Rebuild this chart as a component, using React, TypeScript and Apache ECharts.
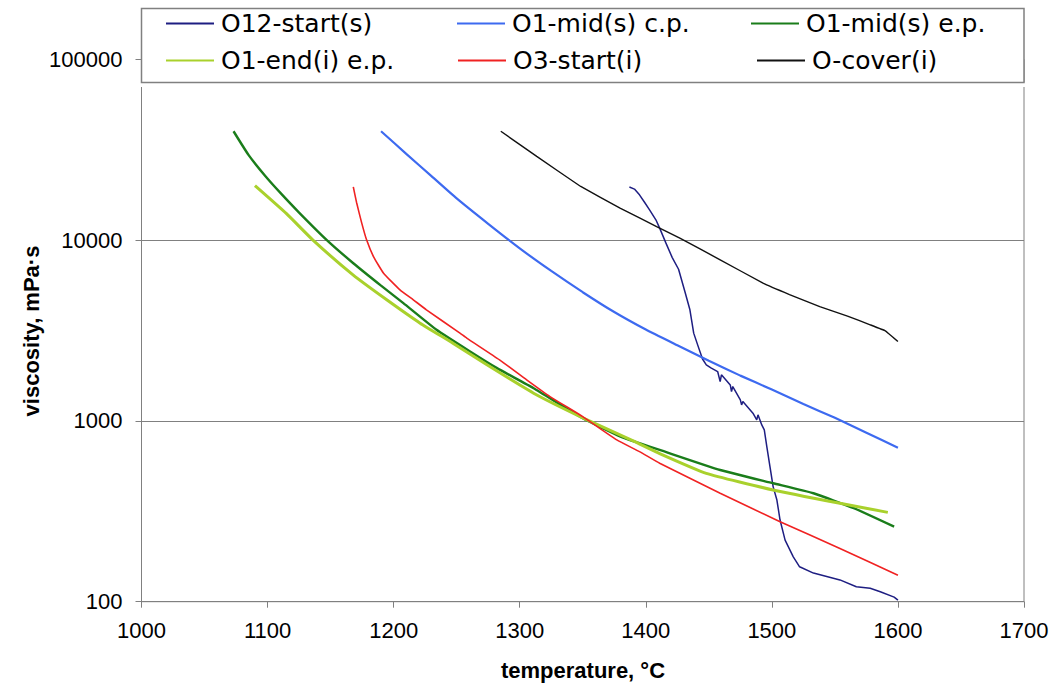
import React, { useEffect, useRef } from "react";
import * as echarts from "echarts";

const seriesNames = [
  "O12-start(s)",
  "O1-mid(s) c.p.",
  "O1-mid(s) e.p.",
  "O1-end(i) e.p.",
  "O3-start(i)",
  "O-cover(i)",
];

const xTicks = [1000, 1100, 1200, 1300, 1400, 1500, 1600, 1700];
const yTicks = [100, 1000, 10000, 100000];

const o12Start = [
  [1387, 19650], [1391, 19150], [1395, 17800], [1399, 16200], [1403, 14700],
  [1408, 12950], [1411, 11650], [1416, 9620], [1421, 8000], [1426, 6900],
  [1431, 5200], [1435, 4115], [1438, 3058], [1441, 2650], [1445, 2200],
  [1448, 2042], [1452, 1957], [1457, 1875], [1459, 1650], [1460, 1798],
  [1467, 1582], [1468, 1453], [1469, 1549], [1475, 1307], [1476, 1226],
  [1477, 1279], [1485, 1103], [1488, 1013], [1489, 1080], [1492, 950],
  [1494, 892], [1496, 721], [1498.5, 559], [1501, 433], [1504, 365],
  [1506.5, 283], [1510.5, 219], [1517, 177], [1522, 156], [1533, 144],
  [1554, 132], [1567, 121], [1578, 118.6], [1586, 113.6], [1597, 106], [1600, 102],
];

const o1MidCp = [
  [1190, 40000], [1210, 30000], [1230, 22600], [1250, 17000], [1275, 12300],
  [1300, 9000], [1325, 6750], [1350, 5150], [1375, 4000], [1400, 3200],
  [1425, 2620], [1450, 2150], [1475, 1780], [1500, 1490], [1525, 1240],
  [1550, 1040], [1575, 860], [1600, 710],
];

const o1MidEp = [
  [1073, 40000], [1085, 29500], [1098, 22700], [1110, 18300], [1125, 14200],
  [1147, 10000], [1168, 7450], [1190, 5600], [1207.7, 4480], [1234, 3190],
  [1260.6, 2420], [1282, 1958], [1311, 1517], [1350, 1035],
  [1380, 819], [1395, 753], [1411, 691], [1459, 535], [1501, 452], [1533, 398],
  [1565, 329], [1597, 260],
];

const o1EndEp = [
  [1090, 20000], [1115, 14000], [1136, 10000], [1168, 6400], [1194.5, 4675],
  [1221, 3473], [1247, 2692], [1274, 2042],
  [1311, 1423], [1350, 1040], [1390, 775], [1411, 660], [1448, 513], [1501, 415],
  [1554, 350], [1592, 312],
];

const o3Start = [
  [1168, 19700], [1170.7, 16030], [1174.7, 12420], [1178.6, 10000], [1184, 8110],
  [1192, 6565], [1205, 5310], [1215.6, 4675], [1226, 4115], [1252.6, 3058],
  [1258, 2870], [1284, 2176], [1305.5, 1686], [1324, 1363], [1350, 1056],
  [1377, 785], [1395, 676], [1411, 583], [1459, 398], [1506.5, 277], [1554, 197],
  [1600, 140],
];

const oCover = [
  [1285, 40000], [1313.5, 29020], [1348.4, 19800], [1379.6, 15030], [1395.4, 13230],
  [1408.6, 11890], [1427, 10260], [1459, 7780], [1493, 5780], [1514, 5000],
  [1538, 4290], [1560, 3800], [1578, 3400], [1590, 3150], [1600, 2750],
];

const seriesData = [o12Start, o1MidCp, o1MidEp, o1EndEp, o3Start, oCover];
const colors = ["#1e1e82", "#3d6af0", "#1a7d1a", "#a9d12c", "#f02222", "#111111"];
const widths = [1.5, 2.2, 2.4, 3, 1.6, 1.4];
const smoothing = [0, 0.15, 0.15, 0.15, 0.15, 0.05];

const legendPos = [
  [166, 11], [457, 11], [751, 11],
  [166, 48], [458, 48], [757, 48],
];

export default function App() {
  const ref = useRef<HTMLDivElement>(null);
  useEffect(() => {
    if (!ref.current) return;
    const chart = echarts.init(ref.current, undefined, { renderer: "svg" });
    const axisGray = "#808080";
    const option: any = {
      animation: false,
      backgroundColor: "#ffffff",
      grid: {
        left: 141.5,
        right: 32,
        top: 59.3,
        bottom: 90.3,
        show: true,
        borderColor: axisGray,
        borderWidth: 1,
        backgroundColor: "#ffffff",
      },
      xAxis: {
        type: "value",
        min: xTicks[0],
        max: xTicks[xTicks.length - 1],
        interval: 100,
        axisLine: { show: true, lineStyle: { color: axisGray, width: 1 } },
        axisTick: { show: true, inside: false, length: 6, lineStyle: { color: axisGray } },
        splitLine: { show: false },
        axisLabel: {
          margin: 18,
          color: "#000",
          fontSize: 22,
          fontFamily: "Liberation Sans, Arial, sans-serif",
          formatter: (v: number) => String(v),
        },
      },
      yAxis: {
        type: "log",
        logBase: 10,
        min: yTicks[0],
        max: yTicks[yTicks.length - 1],
        axisLine: { show: true, lineStyle: { color: axisGray, width: 1 } },
        axisTick: { show: true, inside: false, length: 6, lineStyle: { color: axisGray } },
        splitLine: { show: true, lineStyle: { color: axisGray, width: 1 } },
        minorTick: { show: false },
        axisLabel: {
          margin: 19,
          color: "#000",
          fontSize: 22,
          fontFamily: "Liberation Sans, Arial, sans-serif",
          formatter: (v: number) => String(Math.round(v)),
        },
      },
      legend: seriesNames.map((n, i) => ({
        data: [n],
        left: legendPos[i][0],
        top: legendPos[i][1],
        padding: 0,
        z: 30,
        icon: "rect",
        itemWidth: 48,
        itemHeight: 2,
        itemGap: 0,
        textStyle: {
          fontSize: 25,
          color: "#000",
          fontFamily: "DejaVu Sans, sans-serif",
          padding: [0, 0, 0, 2],
        },
        selectedMode: false,
      })),
      graphic: [
        {
          type: "rect",
          z: 20,
          shape: { x: 136, y: 82, width: 895, height: 5 },
          style: { fill: "#ffffff", stroke: null },
        },
        {
          type: "rect",
          z: 21,
          shape: { x: 141.5, y: 8.5, width: 882.5, height: 74 },
          style: { fill: "#ffffff", stroke: axisGray, lineWidth: 1.5 },
        },
        {
          type: "text",
          z: 25,
          x: 583,
          y: 670,
          style: {
            text: "temperature, °C",
            font: 'bold 22px "Liberation Sans", Arial, sans-serif',
            fill: "#000",
            textAlign: "center",
            textVerticalAlign: "middle",
          },
        },
        {
          type: "text",
          z: 25,
          x: 31,
          y: 331,
          rotation: Math.PI / 2,
          style: {
            text: "viscosity, mPa·s",
            font: 'bold 22px "Liberation Sans", Arial, sans-serif',
            fill: "#000",
            textAlign: "center",
            textVerticalAlign: "middle",
          },
        },
      ],
      series: seriesNames.map((n, i) => ({
        name: n,
        type: "line",
        data: seriesData[i],
        symbol: "none",
        showSymbol: false,
        smooth: smoothing[i],
        lineStyle: { color: colors[i], width: widths[i] },
        itemStyle: { color: colors[i] },
        z: 2 + i * 0.1,
      })),
    };
    chart.setOption(option);
    return () => chart.dispose();
  }, []);
  return (
    <div
      ref={ref}
      style={{ position: "absolute", left: 0, top: 0, width: 1056, height: 692 }}
    />
  );
}
